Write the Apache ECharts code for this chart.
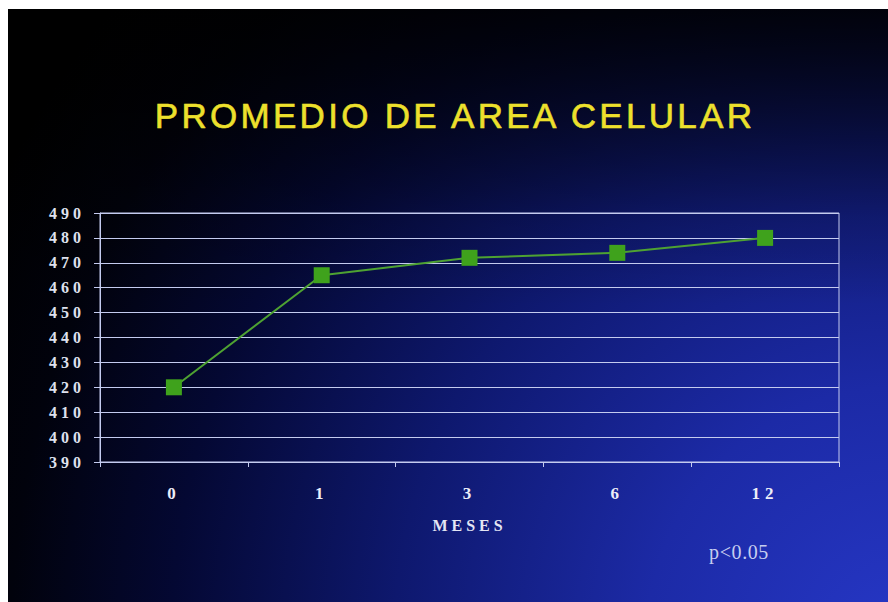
<!DOCTYPE html>
<html>
<head>
<meta charset="utf-8">
<script src="https://cdn.jsdelivr.net/npm/echarts@6/dist/echarts.min.js"></script>
<style>
  html, body { margin: 0; padding: 0; background: #ffffff; }
  #chart { width: 888px; height: 602px; }
  /* tracked lettering for the slide texts (SVG renderer) */
  #chart text[style*="35px"] { letter-spacing: 3.3px; }
  #chart text[style*="16px"] { letter-spacing: 4px; }
  #chart text[style*="17px"] { letter-spacing: 5px; }
  #chart text[style*="20px"] { letter-spacing: 0.6px; }
</style>
</head>
<body>
<div id="chart"></div>
<script>
// Months after baseline and mean cell area at each visit
const months = ['0', '1', '3', '6', '12'];
const cellArea = [420, 465, 472, 474, 480];
const yMin = 390;
const yMax = 490;
const yStep = 10;
const titleText = 'PROMEDIO DE AREA CELULAR';
const xAxisTitle = 'MESES';
const noteText = 'p<0.05';

const chart = echarts.init(document.getElementById('chart'), null, { renderer: 'svg' });

const serif = '"Liberation Serif", "Times New Roman", serif';
const gridColor = '#c4cbef';

chart.setOption({
  animation: false,
  backgroundColor: 'transparent',
  graphic: {
    elements: [
      {
        // slide background: dark corner fading into blue towards bottom right
        type: 'rect',
        z: -100,
        shape: { x: 8, y: 9, width: 880, height: 593 },
        style: {
          fill: {
            type: 'radial', x: 900, y: 640, r: 1010, global: true,
            colorStops: [
              { offset: 0, color: '#2637c6' },
              { offset: 0.25, color: '#1c2aa6' },
              { offset: 0.5, color: '#0e186e' },
              { offset: 0.72, color: '#040833' },
              { offset: 0.88, color: '#01020c' },
              { offset: 1, color: '#000000' }
            ]
          }
        }
      },
      {
        // darker band along the top of the slide
        type: 'rect',
        z: -99,
        shape: { x: 8, y: 9, width: 880, height: 593 },
        style: {
          fill: {
            type: 'linear', x: 0, y: 0, x2: 0, y2: 1,
            colorStops: [
              { offset: 0, color: 'rgba(0,0,0,0.85)' },
              { offset: 0.15, color: 'rgba(0,0,0,0.55)' },
              { offset: 0.35, color: 'rgba(0,0,0,0.15)' },
              { offset: 0.5, color: 'rgba(0,0,0,0)' },
              { offset: 1, color: 'rgba(0,0,0,0)' }
            ]
          }
        }
      },
      {
        type: 'text',
        x: 455, y: 115,
        style: {
          text: titleText,
          fill: '#ede02c',
          font: 'normal 35px "Liberation Sans", Arial, sans-serif',
          align: 'center',
          verticalAlign: 'middle',
          stroke: '#ede02c',
          lineWidth: 0.6
        }
      },
      {
        type: 'text',
        x: 739, y: 552,
        style: {
          text: noteText,
          fill: '#c6cdef',
          font: 'normal 20px ' + serif,
          align: 'center',
          verticalAlign: 'middle'
        }
      }
    ]
  },
  grid: {
    left: 100, right: 49, top: 213, bottom: 140,
    show: true, borderColor: gridColor, borderWidth: 1,
    backgroundColor: 'transparent'
  },
  xAxis: {
    type: 'category',
    data: months,
    boundaryGap: true,
    name: xAxisTitle,
    nameLocation: 'middle',
    nameGap: 55,
    nameTextStyle: { color: '#e4e6f4', fontSize: 16, fontWeight: 'bold', fontFamily: serif },
    axisLine: { lineStyle: { color: gridColor, width: 1 } },
    axisTick: { show: true, length: 5, lineStyle: { color: gridColor } },
    axisLabel: { color: '#eceef8', fontSize: 17, fontWeight: 'bold', fontFamily: serif, margin: 23 },
    splitLine: { show: false }
  },
  yAxis: {
    type: 'value',
    min: yMin, max: yMax, interval: yStep,
    axisLine: { show: true, lineStyle: { color: gridColor, width: 1 } },
    axisTick: { show: true, length: 6, lineStyle: { color: gridColor } },
    axisLabel: { color: '#dfe1ee', fontSize: 16, fontWeight: 'bold', fontFamily: serif, margin: 15 },
    splitLine: { show: true, lineStyle: { color: gridColor, width: 1 } }
  },
  series: [{
    type: 'line',
    data: cellArea,
    symbol: 'rect',
    symbolSize: 16,
    itemStyle: { color: '#3fa21c' },
    lineStyle: { color: '#4ea232', width: 2 }
  }]
});
</script>
</body>
</html>
